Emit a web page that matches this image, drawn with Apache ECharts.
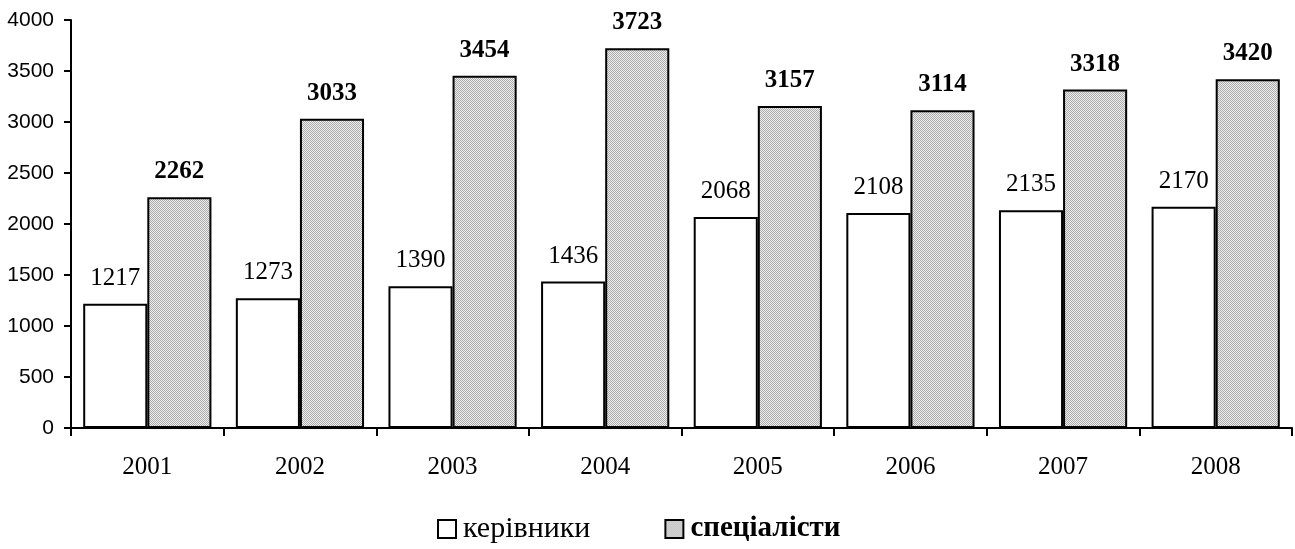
<!DOCTYPE html>
<html>
<head>
<meta charset="utf-8">
<script src="https://cdn.jsdelivr.net/npm/echarts@6/dist/echarts.min.js"></script>
<style>
html,body{margin:0;padding:0;background:#fff;}
#chart{width:1295px;height:549px;}
</style>
</head>
<body>
<div id="chart"></div>
<script>
const categories = ['2001','2002','2003','2004','2005','2006','2007','2008'];
const managers = [1217,1273,1390,1436,2068,2108,2135,2170];
const specialists = [2262,3033,3454,3723,3157,3114,3318,3420];
const seriesNames = ['керівники','спеціалісти'];

const pc = document.createElement('canvas');
pc.width = 2; pc.height = 2;
const ctx = pc.getContext('2d');
ctx.fillStyle = '#ececec'; ctx.fillRect(0,0,2,2);
ctx.fillStyle = '#acacac'; ctx.fillRect(0,0,1,1); ctx.fillRect(1,1,1,1);
const pattern = {image: pc, repeat: 'repeat'};

const serif = '"Liberation Serif", "Times New Roman", serif';
const chart = echarts.init(document.getElementById('chart'), null, {renderer:'canvas'});
chart.setOption({
  animation: false,
  grid: {left: 71, right: 3, top: 20, bottom: 121, containLabel: false},
  legend: {
    bottom: 0, left: 432,
    itemWidth: 18, itemHeight: 18, itemGap: 74,
    icon: 'rect',
    textStyle: {fontFamily: serif, fontSize: 30, color: '#000', padding: [0,0,0,2]},
    data: [
      {name: seriesNames[0], textStyle: {fontWeight: 'normal'}},
      {name: seriesNames[1], textStyle: {fontWeight: 'bold', fontSize: 29}}
    ]
  },
  xAxis: {
    type: 'category', data: categories,
    axisLine: {lineStyle: {color: '#000', width: 2}},
    axisTick: {show: true, length: 8, lineStyle: {color: '#000', width: 2}},
    axisLabel: {margin: 27, fontFamily: serif, fontSize: 25, color: '#000'}
  },
  yAxis: {
    type: 'value', min: 0, max: 4000, interval: 500,
    splitLine: {show: false},
    axisLine: {show: true, lineStyle: {color: '#000', width: 2}},
    axisTick: {show: true, length: 7, lineStyle: {color: '#000', width: 2}},
    axisLabel: {margin: 17, formatter: function (v) { return String(v); }, fontFamily: '"Liberation Sans", Arial, sans-serif', fontSize: 21, color: '#000'}
  },
  series: [
    {
      name: seriesNames[0], type: 'bar', data: managers,
      barGap: '0%', barCategoryGap: '16%',
      itemStyle: {color: '#fff', borderColor: '#000', borderWidth: 2},
      label: {show: true, position: 'top', distance: 13, fontFamily: serif, fontSize: 25, color: '#000'}
    },
    {
      name: seriesNames[1], type: 'bar', data: specialists,
      barGap: '0%', barCategoryGap: '16%',
      itemStyle: {color: pattern, borderColor: '#000', borderWidth: 2},
      label: {show: true, position: 'top', distance: 13, fontFamily: serif, fontSize: 25, fontWeight: 'bold', color: '#000'}
    }
  ]
});
</script>
</body>
</html>
